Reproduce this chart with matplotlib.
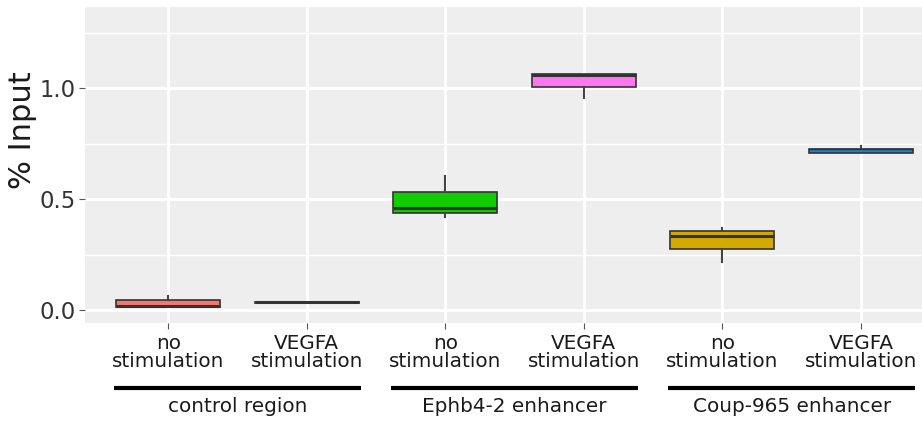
import matplotlib
matplotlib.use('Agg')
import matplotlib.pyplot as plt
from matplotlib.ticker import MultipleLocator, FormatStrFormatter

# 箱线图数据
groups = ['control region', 'Ephb4-2 enhancer', 'Coup-965 enhancer']
conditions = ['no\nstimulation', 'VEGFA\nstimulation']
whislo = [0.015, 0.034, 0.418, 0.958, 0.218, 0.708]
q1 = [0.015, 0.034, 0.436, 1.006, 0.277, 0.708]
med = [0.018, 0.036, 0.461, 1.058, 0.335, 0.726]
q3 = [0.044, 0.038, 0.531, 1.064, 0.356, 0.726]
whishi = [0.063, 0.038, 0.606, 1.064, 0.371, 0.741]
colors = ['#F8766D', '#B8B8B8', '#11CC00', '#FF77EE', '#D4AA00', '#1188CC']

fig = plt.figure(figsize=(9.22, 4.22), dpi=100)
ax = fig.add_axes([85 / 922, 99.3 / 422, 837 / 922, 315.4 / 422])
ax.set_facecolor('#EEEEEE')

stats = []
for i in range(len(q1)):
    stats.append(dict(whislo=whislo[i], q1=q1[i], med=med[i], q3=q3[i], whishi=whishi[i], fliers=[]))

positions = list(range(1, len(stats) + 1))
bp = ax.bxp(stats, positions=positions, widths=0.75, patch_artist=True, showcaps=False,
            boxprops=dict(edgecolor='#333333', linewidth=1.2),
            medianprops=dict(color='#333333', linewidth=2.2),
            whiskerprops=dict(color='#444444', linewidth=1.5))
for patch, c in zip(bp['boxes'], colors):
    patch.set_facecolor(c)
    patch.set_zorder(3)
for ln in bp['medians'] + bp['whiskers']:
    ln.set_zorder(4)
# 很扁的箱子用细一点的中位线
bp['medians'][5].set_linewidth(1.0)

ax.set_xlim(0.4, 1 + (922 - 169) / 138.4)
ax.set_ylim(-0.057, 1.365)
ax.yaxis.set_major_locator(MultipleLocator(0.5))
ax.yaxis.set_minor_locator(MultipleLocator(0.25))
ax.yaxis.set_major_formatter(FormatStrFormatter('%.1f'))

ax.grid(which='major', color='white', linewidth=2.0, zorder=0)
ax.grid(which='minor', axis='y', color='white', linewidth=1.0, zorder=0)
ax.set_axisbelow(True)
for s in ax.spines.values():
    s.set_visible(False)

ax.set_xticks(positions)
ax.set_xticklabels(conditions * len(groups), fontsize=14.4, color='#1a1a1a', linespacing=0.95)
ax.tick_params(axis='x', which='major', length=4, color='#555555', pad=4)
ax.tick_params(axis='y', which='major', length=4, color='#555555', labelsize=16.4, labelcolor='#333333', pad=3)
ax.tick_params(axis='y', which='minor', length=0)

ax.set_ylabel('% Input', fontsize=22, color='#1a1a1a')
ax.yaxis.set_label_coords(-0.0573, 0.611)

# 分组横线和组名
trans = ax.get_xaxis_transform()
for k, g in enumerate(groups):
    c = 1.5 + 2 * k
    ax.plot([c - 0.89, c + 0.89], [-0.207, -0.207], transform=trans, color='black',
            linewidth=3, clip_on=False, solid_capstyle='butt')
    ax.text(c, -0.267, g, transform=trans, ha='center', va='center', fontsize=14.4, color='#1a1a1a')

fig.savefig('out.png', dpi=100)
